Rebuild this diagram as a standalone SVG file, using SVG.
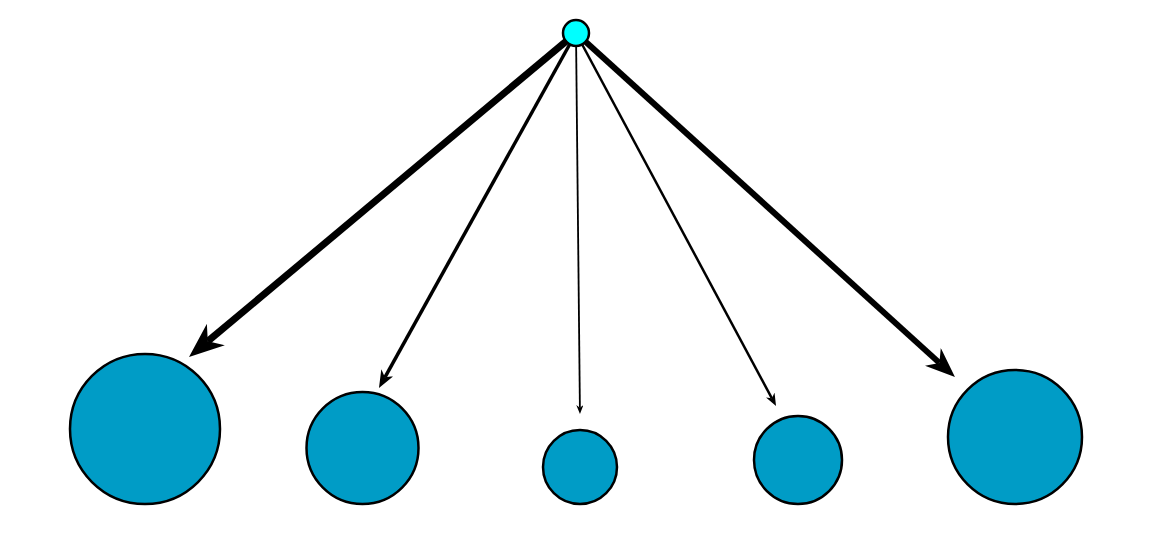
<svg xmlns="http://www.w3.org/2000/svg" width="1172" height="541" viewBox="0 0 1172 541">
<style>
.edge{fill:none;stroke:#000;marker-end:url(#ah)}
.leaf{fill:#009cc6;stroke:#000;stroke-width:2.5}
.root{fill:#00ffff;stroke:#000;stroke-width:2.5}
</style>
<defs>
<marker id="ah" viewBox="0 0 10 8" refX="3" refY="4" markerWidth="5" markerHeight="4" orient="auto">
<path d="M0,0 L10,4 L0,8 L3,4 z" fill="#000"/>
</marker>
</defs>
<rect width="1172" height="541" fill="#fff"/>
<g id="connectors">
<line class="edge" x1="576" y1="33" x2="207.8" y2="341.3" stroke-width="7"/>
<line class="edge" x1="576" y1="33" x2="384.9" y2="377.3" stroke-width="3.5"/>
<line class="edge" x1="576" y1="33" x2="579.9" y2="407.7" stroke-width="1.8"/>
<line class="edge" x1="576" y1="33" x2="771.9" y2="398.3" stroke-width="2.5"/>
<line class="edge" x1="576" y1="33" x2="939.4" y2="362.9" stroke-width="6"/>
</g>
<g id="root"><circle class="root" cx="576" cy="33" r="13"/></g>
<g id="n1"><circle class="leaf" cx="145" cy="429" r="75"/></g>
<g id="n2"><circle class="leaf" cx="362.5" cy="448" r="56"/></g>
<g id="n3"><circle class="leaf" cx="580" cy="467" r="37"/></g>
<g id="n4"><circle class="leaf" cx="798" cy="460" r="44"/></g>
<g id="n5"><circle class="leaf" cx="1015" cy="437" r="67"/></g>
</svg>
